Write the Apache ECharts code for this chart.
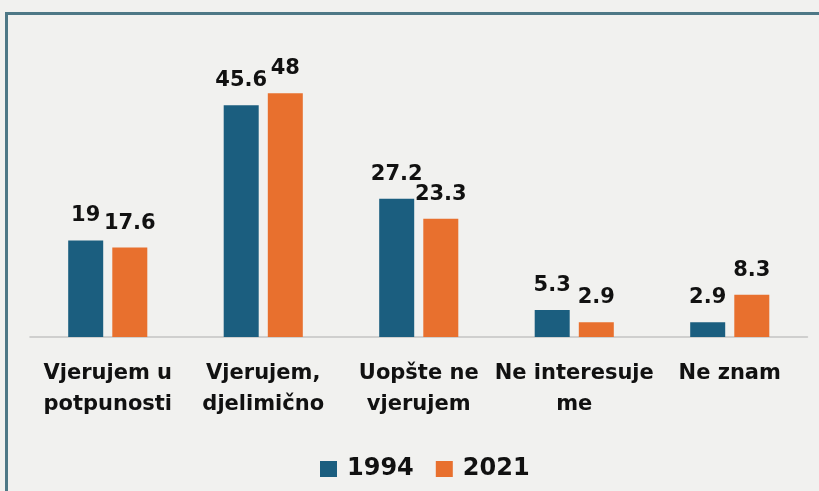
<!DOCTYPE html>
<html><head><meta charset="utf-8">
<script src="https://cdn.jsdelivr.net/npm/echarts@6/dist/echarts.min.js"></script>
<style>html,body{margin:0;padding:0;background:#f1f1ef}#c{width:819px;height:491px}</style>
</head><body><div id="c"></div>
<script>
const categories = ['Vjerujem u\npotpunosti', 'Vjerujem,\ndjelimično', 'Uopšte ne\nvjerujem', 'Ne interesuje\nme', 'Ne znam'];
const seriesNames = ['1994', '2021'];
const values1994 = [19, 45.6, 27.2, 5.3, 2.9];
const values2021 = [17.6, 48, 23.3, 2.9, 8.3];
const colors = ['#1b5e7f', '#e8702e'];

const font = 'DejaVu Sans';
const chart = echarts.init(document.getElementById('c'));
const labelStyle = {show: true, position: 'top', distance: 14, fontFamily: font, fontWeight: 'bold', fontSize: 21, color: '#111'};
chart.setOption({
  backgroundColor: '#f1f1ef',
  animation: false,
  graphic: [{type: 'rect', shape: {x: 6.5, y: 13.5, width: 840, height: 520}, style: {fill: 'none', stroke: '#4e7886', lineWidth: 3}}],
  grid: {left: 30, right: 11.5, top: 83, bottom: 154, containLabel: false},
  legend: {left: 315, top: 452, itemWidth: 17, itemHeight: 16, itemGap: 22, icon: 'rect',
    textStyle: {fontFamily: font, fontWeight: 'bold', fontSize: 24, color: '#111', padding: [0, 0, 0, 5]},
    data: seriesNames},
  xAxis: {type: 'category', data: categories,
    axisLine: {lineStyle: {color: '#c4c4c4', width: 1.5}}, axisTick: {show: false},
    axisLabel: {interval: 0, margin: 21, fontFamily: font, fontWeight: 'bold', fontSize: 21, lineHeight: 31, color: '#111'}},
  yAxis: {type: 'value', min: 0, max: 50, show: false, splitLine: {show: false}},
  series: [
    {name: seriesNames[0], type: 'bar', data: values1994, barWidth: 35, barGap: '26%', itemStyle: {color: colors[0]}, label: labelStyle},
    {name: seriesNames[1], type: 'bar', data: values2021, barWidth: 35, itemStyle: {color: colors[1]}, label: labelStyle}
  ]
});
</script></body></html>
